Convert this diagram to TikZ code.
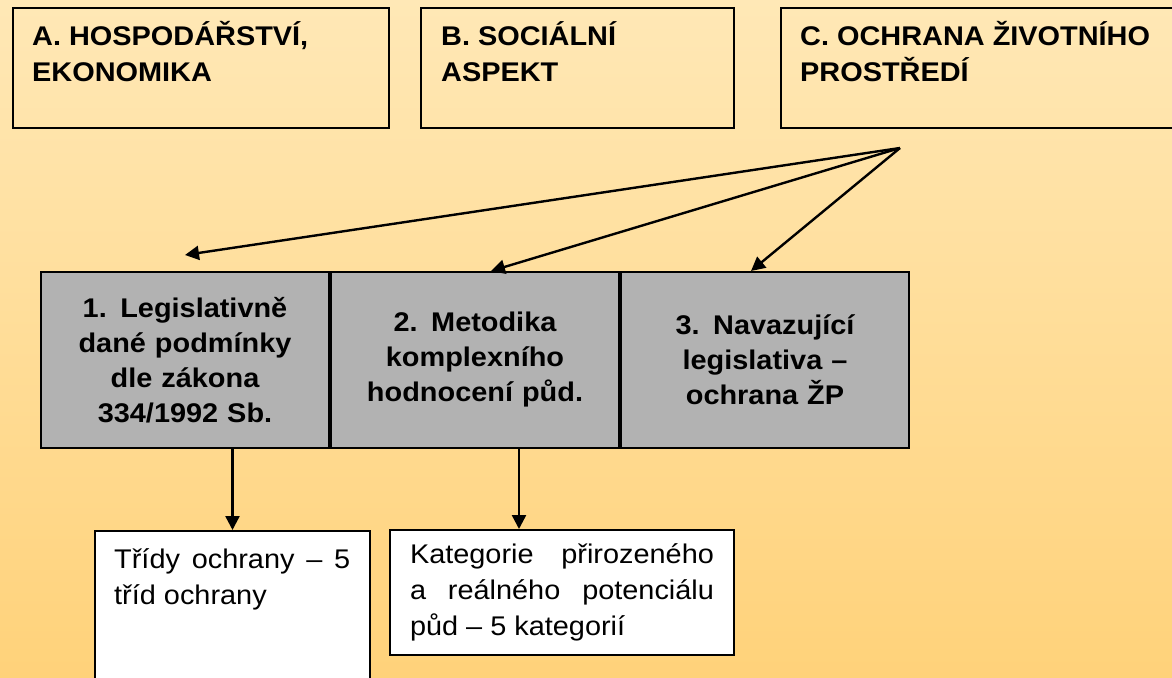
\documentclass[tikz,border=0pt]{standalone}
\usepackage{fontspec}
\setmainfont{Liberation Sans}[FakeStretch=1.07]
\usetikzlibrary{arrows.meta,calc}
\definecolor{bgtop}{HTML}{FFE8B6}
\definecolor{bgbottom}{HTML}{FFD27A}
\definecolor{pillar}{HTML}{B2B2B2}
\tikzset{
  area/.style={draw=black, line width=2pt, anchor=north west, inner sep=0pt},
  pillarbox/.style={area, fill=pillar, minimum width=288pt, minimum height=176pt,
    text width=270pt, align=center, font=\bfseries\fontsize{27pt}{35pt}\selectfont},
  headtext/.style={anchor=north west, inner sep=0pt, align=left,
    font=\bfseries\fontsize{27pt}{36pt}\selectfont},
  bodytext/.style={align=justify, font=\fontsize{27pt}{36pt}\selectfont},
  link/.style={line width=2.4pt, -{Triangle[length=14pt,width=14pt]}}
}
\begin{document}
\begin{tikzpicture}[x=1pt,y=-1pt]
        \useasboundingbox (0,0) rectangle (1172,677);
        \shade[top color=bgtop, bottom color=bgbottom] (0,0) rectangle (1172,677);
        \node[area, minimum width=376pt, minimum height=120pt] (econ) at (12,7) {};
        \node[area, minimum width=313pt, minimum height=120pt] (social) at (420,7) {};
        \node[area, minimum width=420pt, minimum height=120pt] (environ) at (780,7) {};
        \node[headtext] (econtext) at (32,20) {\strut A. HOSPODÁŘSTVÍ,\\EKONOMIKA};
        \node[headtext] (socialtext) at (441,20) {\strut B. SOCIÁLNÍ\\ASPEKT};
        \node[headtext] (environtext) at (800,20) {\strut C. OCHRANA ŽIVOTNÍHO\\PROSTŘEDÍ};
        \node[pillarbox] (legal) at (40,271) {1. Legislativně\\dané podmínky\\dle zákona\\334/1992 Sb.};
        \node[pillarbox] (method) at (legal.north east) {2. Metodika\\komplexního\\hodnocení půd.};
        \node[pillarbox] (follow) at (method.north east) {3. Navazující\\legislativa –\\ochrana ŽP};
        \node[area, fill=white, minimum width=275pt, minimum height=170pt] (classes) at (94,530) {};
        \node[bodytext, anchor=north west, inner sep=0pt, text width=236pt] (classestext) at (114,543) {\strut Třídy ochrany – 5\linebreak tříd ochrany};
        \node[area, bodytext, fill=white, minimum width=344pt, minimum height=125pt, text width=304pt] (category) at (389,529) {Kategorie přirozeného\linebreak a reálného potenciálu\linebreak půd – 5 kategorií};
        \coordinate (fan) at (900,148);
        \draw[link] (fan) -- ($(legal.north)+(0,-16)$);
        \draw[link] (fan) -- ($(method.north)+(16,0)$);
        \draw[link] (fan) -- ($(follow.north)+(-14,0)$);
        \draw[link] (legal.south -| classes.north) -- (classes.north);
        \coordinate (drop) at ($(method.south)+(44,0)$);
        \draw[link] (drop) -- (drop |- category.north);
    \end{tikzpicture}
\end{document}
